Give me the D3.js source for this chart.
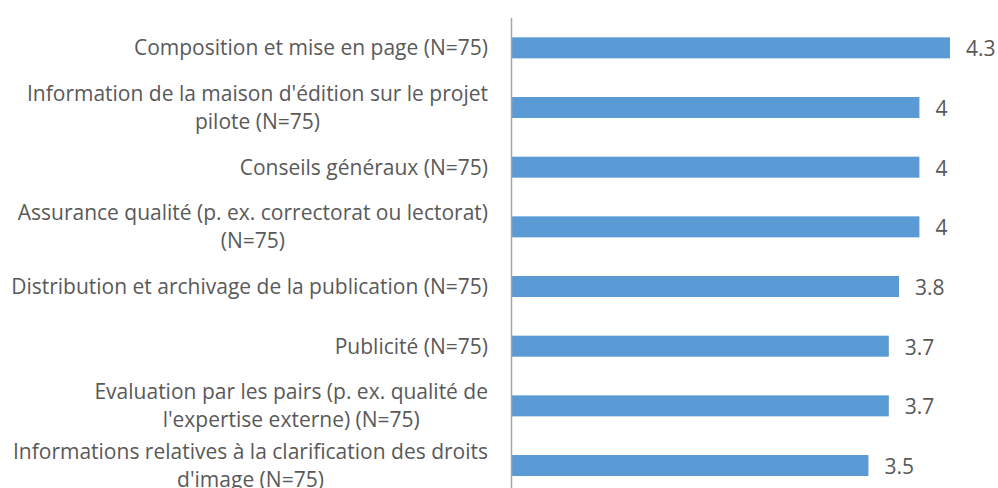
<!DOCTYPE html>
<meta charset="utf-8">
<script src="https://d3js.org/d3.v7.min.js"></script>
<style>
  body { margin: 0; background: #fff; }
  text { font-family: "Open Sans", Lato, sans-serif; fill: #595959; }
</style>
<div id="chart"></div>
<script>
// categories, one line per entry in the sub array as wrapped in the picture
var categories = [
  ["Composition et mise en page (N=75)"],
  ["Information de la maison d'édition sur le projet", "pilote (N=75)"],
  ["Conseils généraux (N=75)"],
  ["Assurance qualité (p. ex. correctorat ou lectorat)", "(N=75)"],
  ["Distribution et archivage de la publication (N=75)"],
  ["Publicité (N=75)"],
  ["Evaluation par les pairs (p. ex. qualité de", "l'expertise externe) (N=75)"],
  ["Informations relatives à la clarification des droits", "d'image (N=75)"]
];
var values = [4.3, 4, 4, 4, 3.8, 3.7, 3.7, 3.5];
var valueLabels = ["4.3", "4", "4", "4", "3.8", "3.7", "3.7", "3.5"];

var width = 998, height = 488;
var x0 = 511.5;

var svg = d3.select("#chart").append("svg")
  .attr("width", width)
  .attr("height", height);

// pick a font size so the widest label is about as wide as in the original
var probe = svg.append("text").style("font-size", "20px")
  .text("Distribution et archivage de la publication (N=75)");
var fontSize = 20 * 477 / probe.node().getComputedTextLength();
probe.remove();

var x = d3.scaleLinear()
  .domain([0, 4.3])
  .range([x0, 950]);

var y = d3.scaleBand()
  .domain(d3.range(categories.length))
  .range([18, 18 + 59.67 * categories.length])
  .paddingInner(0.648)
  .paddingOuter(0.324);

// bars
svg.selectAll("rect.bar")
  .data(values)
  .enter()
  .append("rect")
  .attr("class", "bar")
  .attr("x", x(0))
  .attr("y", function (d, i) { return y(i); })
  .attr("width", function (d) { return x(d) - x(0); })
  .attr("height", y.bandwidth())
  .attr("fill", "#5B9BD5");

// vertical axis line
svg.append("line")
  .attr("x1", x0).attr("x2", x0)
  .attr("y1", 18).attr("y2", height)
  .attr("stroke", "#A6A6A6")
  .attr("stroke-width", 1.5);

// value labels
svg.selectAll("text.val")
  .data(values)
  .enter()
  .append("text")
  .attr("class", "val")
  .attr("x", function (d) { return x(d) + 16; })
  .attr("y", function (d, i) { return y(i) + y.bandwidth() / 2 + 1; })
  .attr("dy", "0.35em")
  .style("font-size", fontSize + "px")
  .text(function (d, i) { return valueLabels[i]; });

// category labels: block right aligned, lines centered inside block
var labelRight = 488;
var lineHeight = 28;
categories.forEach(function (lines, i) {
  var cy = y(i) + y.bandwidth() / 2;
  var t = svg.append("text")
    .attr("text-anchor", "middle")
    .style("font-size", fontSize + "px");
  var spans = lines.map(function (l, j) {
    return t.append("tspan")
      .attr("y", cy + (j - (lines.length - 1) / 2) * lineHeight)
      .attr("dy", "0.35em")
      .text(l);
  });
  var maxW = d3.max(spans, function (s) { return s.node().getComputedTextLength(); });
  spans.forEach(function (s) { s.attr("x", labelRight - maxW / 2); });
});
</script>
